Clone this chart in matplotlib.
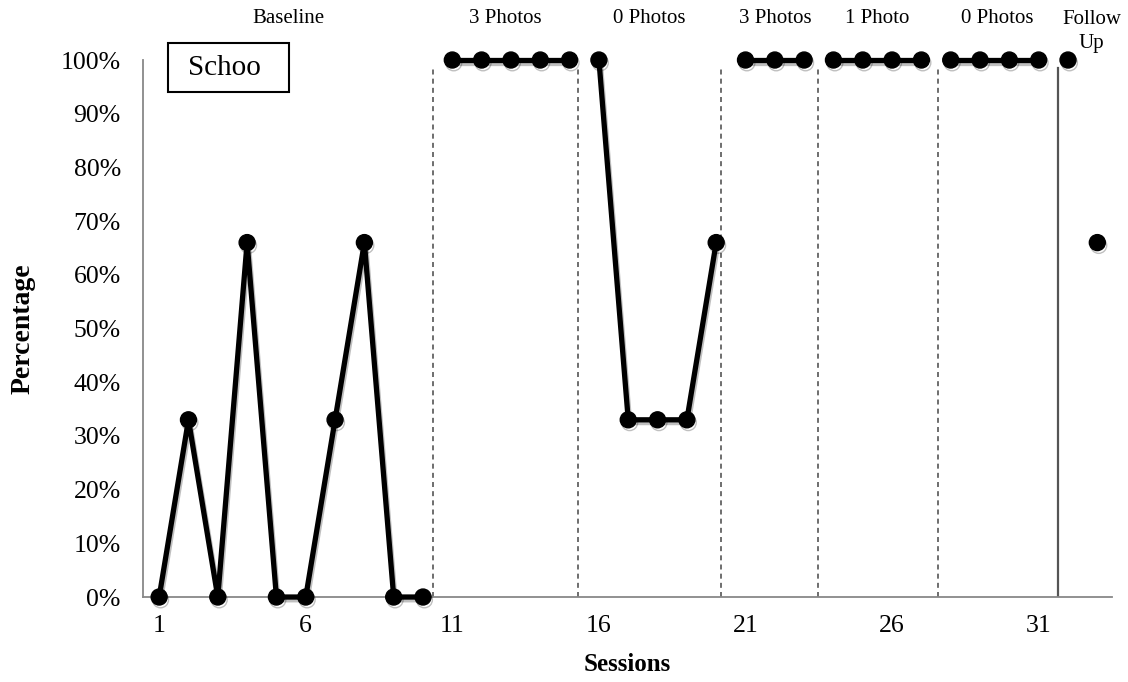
import matplotlib
matplotlib.use('Agg')
import matplotlib.pyplot as plt
import matplotlib.patheffects as pe
from matplotlib.patches import Rectangle
from matplotlib.ticker import PercentFormatter

plt.rcParams['font.family'] = ['Liberation Serif', 'DejaVu Serif']

# ── data ─────────────────────────────────────────────────────────
# each phase is drawn as its own connected segment
phase_sessions = [
    [1, 2, 3, 4, 5, 6, 7, 8, 9, 10],
    [11, 12, 13, 14, 15],
    [16, 17, 18, 19, 20],
    [21, 22, 23],
    [24, 25, 26, 27],
    [28, 29, 30, 31],
    [32],
    [33],
]
phase_values = [
    [0, 33, 0, 66, 0, 0, 33, 66, 0, 0],
    [100, 100, 100, 100, 100],
    [100, 33, 33, 33, 66],
    [100, 100, 100],
    [100, 100, 100, 100],
    [100, 100, 100, 100],
    [100],
    [66],
]
phase_names = ['Baseline', '3 Photos', '0 Photos', '3 Photos', '1 Photo', '0 Photos', 'Follow\nUp']
label_x = [5.4, 12.8, 17.7, 22.0, 25.5, 29.6, 32.8]
change_lines = [10.35, 15.27, 20.18, 23.46, 27.55]
followup_line = 31.65
x_ticks = [1, 6, 11, 16, 21, 26, 31]
y_ticks = [0, 10, 20, 30, 40, 50, 60, 70, 80, 90, 100]

fig = plt.figure(figsize=(11.28, 6.82), dpi=100)
ax = fig.add_axes([0.1268, 0.1246, 0.8590, 0.7874])

shadow = [pe.SimpleLineShadow(offset=(1, -2), alpha=0.25, shadow_color='black'), pe.Normal()]
for xs, ys in zip(phase_sessions, phase_values):
    ax.plot(xs, ys, color='black', linewidth=3.8, marker='o', markersize=11.5,
            clip_on=False, zorder=5, path_effects=shadow)

for xv in change_lines:
    ax.axvline(xv, ymin=0, ymax=0.985, color='#555555', linestyle=(0, (3, 2.5)), linewidth=1.2)
ax.axvline(followup_line, ymin=0, ymax=0.985, color='#555555', linestyle='-', linewidth=1.6)

ax.set_xlim(0.45, 33.5)
ax.set_ylim(0, 100)
ax.set_xticks(x_ticks)
ax.set_yticks(y_ticks)
ax.yaxis.set_major_formatter(PercentFormatter(decimals=0))
ax.tick_params(length=0, labelsize=18.5)
ax.tick_params(axis='y', pad=16)
ax.tick_params(axis='x', pad=13)

for side in ['top', 'right']:
    ax.spines[side].set_visible(False)
for side in ['left', 'bottom']:
    ax.spines[side].set_color('#888888')
    ax.spines[side].set_linewidth(1.3)

ax.set_ylabel('Percentage', fontsize=20, fontweight='bold')
ax.yaxis.set_label_coords(-0.111, 0.5)
ax.set_xlabel('Sessions', fontsize=18, fontweight='bold')
ax.xaxis.set_label_coords(0.5, -0.105)

# phase labels above the plot
trans = ax.get_xaxis_transform()
for name, xv in zip(phase_names, label_x):
    ax.text(xv, 1.078, name, transform=trans, ha='center', va='center',
            fontsize=15, linespacing=1.3)
# Follow Up has two lines, first line level with the others
ax.texts[-1].set_y(1.053)

# "Schoo" box
ax.add_patch(Rectangle((0.0258, 0.940), 0.1249, 0.092, transform=ax.transAxes,
                       fill=False, edgecolor='black', linewidth=1.5, clip_on=False))
ax.text(0.046, 0.986, 'Schoo', transform=ax.transAxes, ha='left', va='center', fontsize=21)

plt.savefig('out.png', dpi=100, facecolor='white')
plt.close()
